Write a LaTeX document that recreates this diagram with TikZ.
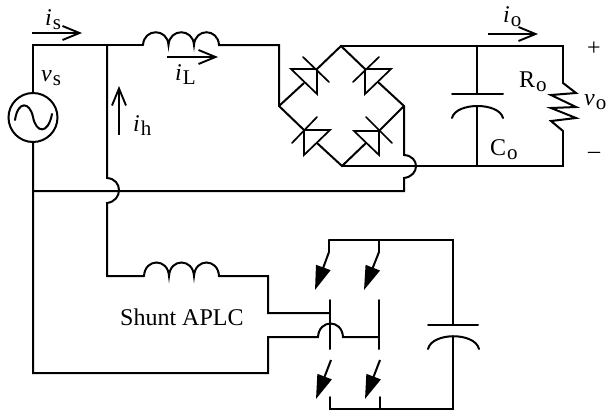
\documentclass[tikz,border=0pt]{standalone}
\usepackage{fontspec}
\setmainfont{Liberation Serif}
\usetikzlibrary{arrows.meta}
\newcommand{\curlab}[2]{\textit{#1}\kern1pt\raisebox{-4pt}{\fontsize{21}{21}\selectfont #2}}
\newcommand{\plainlab}[2]{#1\kern1pt\raisebox{-4pt}{\fontsize{21}{21}\selectfont #2}}
\tikzset{
  wire/.style={line width=2pt,line join=miter,line cap=round},
  thin wire/.style={line width=1.7pt,line cap=round},
  diodeshape/.style={line width=1.7pt,line join=miter},
  curarrow/.style={line width=1.7pt,-{Straight Barb[length=17pt,width=14pt,line width=1.9pt]}},
  swarrow/.style={line width=2pt,-{Triangle[length=24pt,width=15pt]}},
  lab/.style={inner sep=0pt,font=\fontsize{24}{24}\selectfont,text=black},
}
\begin{document}
\begin{tikzpicture}[x=1pt,y=-1pt]
\useasboundingbox (0,0) rectangle (608,413);
% coordinates
\coordinate (tl) at (33,45);
\coordinate (jh) at (107,45);
\coordinate (l1a) at (143,45);
\coordinate (l1b) at (219,45);
\coordinate (tr) at (279,45);
\coordinate (bl) at (279,106);
\coordinate (bt) at (341,46);
\coordinate (br) at (404,106);
\coordinate (bb) at (342,166);
\coordinate (capt) at (477,46);
\coordinate (capb) at (477,166);
\coordinate (rt) at (563,46);
\coordinate (rb) at (563,166);
\coordinate (gl) at (33,191);
\node[circle,draw,line width=2pt,minimum size=49pt,inner sep=0pt] (src) at (33,117.5) {};
% main wires
\draw[wire] (src.north) -- (tl) -- (l1a);
\draw[wire] (l1a) .. controls +(1,-17) and +(-1,-17) .. (168.5,45)
  .. controls +(1,-17) and +(-1,-17) .. (194,45)
  .. controls +(1,-17) and +(-1,-17) .. (l1b) -- (tr) -- (bl);
\draw[wire] (src.south) -- (gl) -- (33,373) -- (268,373) -- (268,337) -- (318,337)
  .. controls (319,319) and (342,319) .. (343,337) -- (379,337);
\draw[wire] (gl) -- (404,191) -- (404,178)
  .. controls (420,176) and (420,156) .. (404,155) -- (br);
\draw[wire] (jh) -- (107,178) .. controls (123,179) and (123,201) .. (107,203)
  -- (107,276) -- (144,276);
\draw[wire] (144,276) .. controls +(1,-18) and +(-1,-18) .. (169,276)
  .. controls +(1,-18) and +(-1,-18) .. (194,276)
  .. controls +(1,-18) and +(-1,-18) .. (219,276) -- (268,276) -- (268,313) -- (330,313);
\draw[wire] (bt) -- (rt) -- (563,83);
\draw[wire] (bb) -- (rb) -- (563,131);
\draw[wire] (563,83) -- (576,93) -- (551,95) -- (576,107) -- (551,108) -- (576,118) -- (551,121) -- (563,131);
% output capacitor
\draw[wire] (capt) -- (477,94);
\draw[wire] (452,94) -- (503,94);
\draw[wire] (452,118) .. controls (456,102) and (499,102) .. (503,118);
\draw[wire] (477,106) -- (capb);
% bridge
\draw[wire] (bl) -- (304,83);
\draw[wire] (317,69) -- (bt) -- (365,69);
\draw[wire] (378,82) -- (br);
\draw[wire] (bl) -- (304,130);
\draw[wire] (317,143) -- (bb) -- (366,143);
\draw[wire] (379,131) -- (br);
\draw[diodeshape] (291,69) -- (317,69) -- (317,94) -- cycle;
\draw[thin wire] (303,57) -- (329,82);
\draw[diodeshape] (391,69) -- (365,69) -- (365,94) -- cycle;
\draw[thin wire] (353,82) -- (379,57);
\draw[diodeshape] (330,130) -- (304,130) -- (304,155) -- cycle;
\draw[thin wire] (292,143) -- (317,117);
\draw[diodeshape] (354,131) -- (379,131) -- (379,155) -- cycle;
\draw[thin wire] (366,117) -- (392,143);
% inverter
\coordinate (il) at (329,240);
\coordinate (ir) at (379,240);
\coordinate (ie) at (453,240);
\coordinate (jl) at (330,409);
\coordinate (jr) at (380,409);
\coordinate (je) at (453,409);
\draw[wire] (il) -- (ie) -- (453,325);
\draw[wire] (428,325) -- (478,325);
\draw[wire] (428,349) .. controls (432,332) and (475,332) .. (479,349);
\draw[wire] (453,336) -- (je) -- (jl) -- (330,397);
\draw[wire] (jr) -- (380,397);
\draw[wire] (330,300) -- (330,349);
\draw[wire] (379,300) -- (379,349);
\draw[wire] (il) -- (329,252);
\draw[wire] (ir) -- (379,252);
\draw[swarrow] (329,252) -- (315,290);
\draw[swarrow] (379,252) -- (364,290);
\draw[swarrow] (331,360) -- (316,399);
\draw[swarrow] (380,360) -- (365,399);
% source sine
\draw[wire] (15,120) .. controls (18,100) and (30,102) .. (33,117) .. controls (36,133) and (48,135) .. (52,114);
% current arrows
\draw[curarrow] (32,33) -- (82,33);
\draw[curarrow] (167,57) -- (218,57);
\draw[curarrow] (119,135) -- (119,86);
\draw[curarrow] (488,34) -- (538,34);
% labels
\node[lab,anchor=base west] (is) at (45,25) {\curlab{i}{s}};
\node[lab,anchor=base west] (il2) at (175,80) {\curlab{i}{L}};
\node[lab,anchor=base west] (ih) at (133,131) {\curlab{i}{h}};
\node[lab,anchor=base west] (vs) at (41,81) {\curlab{v}{s}};
\node[lab,anchor=base west] (io) at (503,22) {\curlab{i}{o}};
\node[lab,anchor=base west] (ro) at (519,87) {\plainlab{R}{o}};
\node[lab,anchor=base west] (co) at (490,155) {\plainlab{C}{o}};
\node[lab,anchor=base west] (vo) at (584,105) {\curlab{v}{o}};
\node[lab] (plus) at (594,49) {+};
\node[lab] (minus) at (594,155) {\textendash};
\node[lab,anchor=base west] (apl) at (120,325) {Shunt APLC};
\end{tikzpicture}
\end{document}
